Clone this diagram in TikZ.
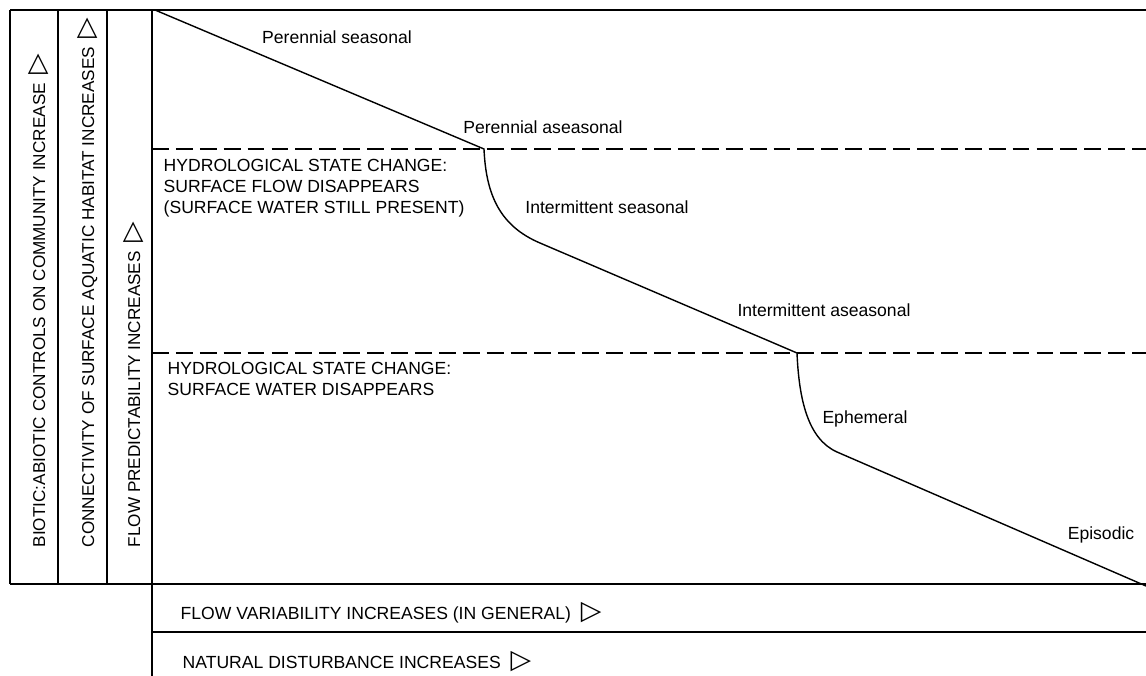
\documentclass[tikz,border=0pt]{standalone}
\usepackage{fontspec}
\setmainfont{Liberation Sans}
\newfontfamily\symfont{DejaVu Sans}
\newcommand\incmark{{\symfont\fontsize{19}{19}\selectfont ▷}}

\begin{document}
\begin{tikzpicture}[x=0.025cm, y=-0.025cm, line width=1pt,
		font=\fontsize{12.5}{14.8}\selectfont,
		sidebar/.style={rotate=90, anchor=base west, inner sep=0pt, font=\fontsize{12.2}{14}\selectfont},
		note/.style={anchor=north west, align=left, inner sep=0pt},
		tag/.style={inner sep=0pt}]
	\useasboundingbox (0,0) rectangle (1146,676);
	\draw (10,10) -- (1146,10);
	\draw (10,10) -- (10,584);
	\draw (58,10) -- (58,584);
	\draw (107,10) -- (107,584);
	\draw (152,10) -- (152,676);
	\draw (10,584) -- (1146,584);
	\draw (152,632) -- (1146,632);
	\draw [dash pattern=on 12pt off 5pt] (152,149) -- (1146,149);
	\draw [dash pattern=on 12pt off 5pt] (152,353) -- (1146,353);

	\node [sidebar] (biotic) at (45,548) {BIOTIC:ABIOTIC CONTROLS ON COMMUNITY INCREASE\hspace{6pt}\incmark};
	\node [sidebar] (connect) at (94,548) {CONNECTIVITY OF SURFACE AQUATIC HABITAT INCREASES\hspace{6pt}\incmark};
	\node [sidebar] (predict) at (140,548) {FLOW PREDICTABILITY INCREASES\hspace{6pt}\incmark};

	\node [anchor=base west, inner sep=0pt] (variab) at (180,619) {FLOW VARIABILITY INCREASES (IN GENERAL)\hspace{7pt}\incmark};
	\node [anchor=base west, inner sep=0pt] (disturb) at (182,668) {NATURAL DISTURBANCE INCREASES\hspace{7pt}\incmark};

	\node [note] (flowgone) at (163,159) {HYDROLOGICAL STATE CHANGE:\\SURFACE FLOW DISAPPEARS\\(SURFACE WATER STILL PRESENT)};
	\node [note] (watergone) at (167,362) {HYDROLOGICAL STATE CHANGE:\\SURFACE WATER DISAPPEARS};

	\coordinate (top) at (155,10);
	\coordinate (k1) at (484,149);
	\coordinate (b1) at (540,243);
	\coordinate (k2) at (797,353);
	\coordinate (b2) at (837,452);
	\coordinate (end) at (1146,586);
	\draw (top) -- (k1) .. controls (486,195) and (500,226) .. (b1) -- (k2) .. controls (799,400) and (808,439) .. (b2) -- (end);

	\node [tag] (perseas) at (337,37) {Perennial seasonal};
	\node [tag] (peraseas) at (543,127) {Perennial aseasonal};
	\node [tag] (intseas) at (607,207) {Intermittent seasonal};
	\node [tag] (intaseas) at (824,310) {Intermittent aseasonal};
	\node [tag] (ephem) at (865,419) {Ephemeral};
	\node [tag] (episod) at (1101,535) {Episodic};
\end{tikzpicture}
\end{document}
